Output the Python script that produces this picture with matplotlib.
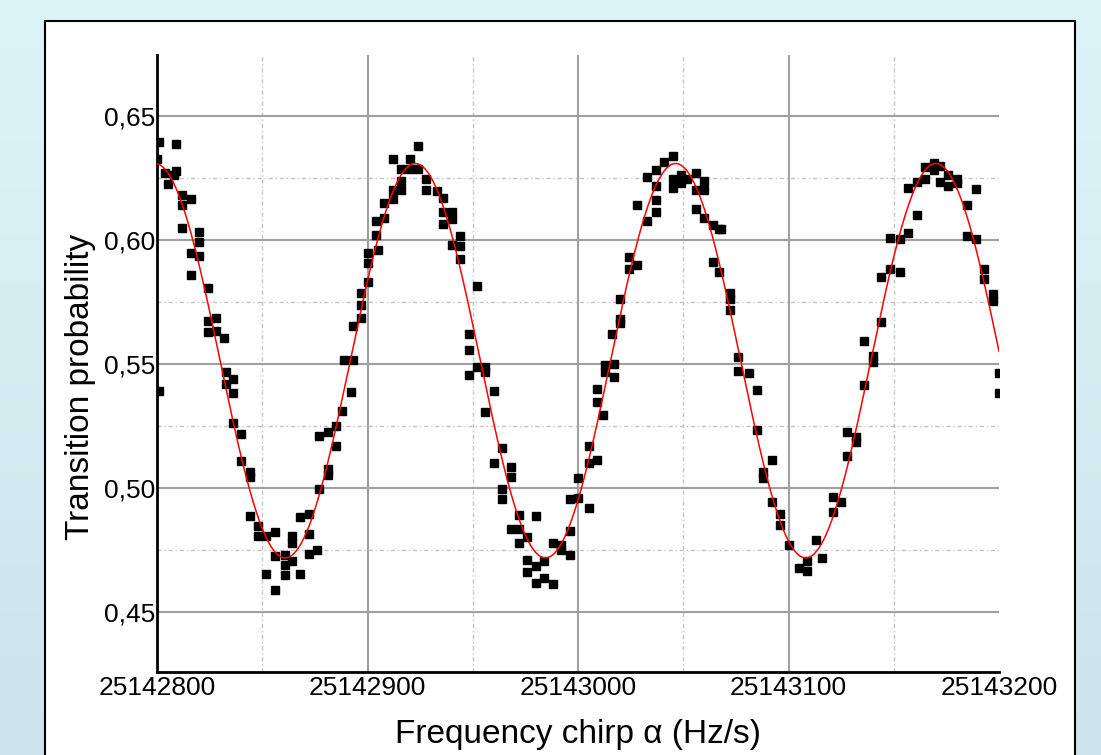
"""
Transition probability vs. frequency chirp, with a sinusoidal fit
"""
import numpy as np
import matplotlib
matplotlib.use("Agg")
import matplotlib.pyplot as plt
from matplotlib.patches import Rectangle
from matplotlib.ticker import FuncFormatter, MultipleLocator

plt.rcParams['font.family'] = ['Liberation Sans', 'DejaVu Sans']

CHIRP_START = 25142800
CHIRP_END = 25143200

# measured points: chirp offset from 25142800 Hz/s, transition probability
chirp_offset = [
    1, 9, 0, 4, 9, 8, 5, 12, 16, 12, 12, 20, 20, 16, 20, 16, 24, 24, 28, 24,
    28, 32, 33, 36, 33, 36, 1, 36, 40, 40, 44, 44, 44, 48, 48, 52, 56, 64, 64, 68,
    56, 61, 64, 61, 52, 61, 68, 56,
    112, 124, 120, 116, 120, 124, 128, 128, 133, 116, 116, 112, 112, 108, 108, 104,
    104, 105, 100, 100, 100, 97, 97, 97, 93, 89, 93, 92, 88, 85, 81, 77, 85, 81,
    81, 77, 72, 72, 72, 76,
    136, 136, 140, 140, 136, 144, 140, 144, 144, 152, 148, 148, 152, 156, 156, 148,
    160, 156, 164, 160, 168, 168, 164, 164, 172, 180, 168, 172, 176, 172, 188, 192,
    196, 192, 176, 180, 184, 176, 184, 180, 188, 196, 196, 200, 200,
    205, 205, 205, 209, 209, 209, 212, 213, 213, 217, 217, 216, 220, 220, 220, 224,
    224, 228, 228, 233, 233, 237, 237, 237, 237, 241, 245, 245, 245, 249, 249, 252,
    256, 260, 260, 256, 256, 260, 264, 267, 264, 267,
    268, 272, 272, 272, 276, 276, 281, 285, 285, 292, 288, 288, 292, 296, 296, 300,
    305, 309, 309, 313, 316, 321, 321, 325, 328, 328, 332, 332,
    336, 336, 340, 340, 344, 344, 348, 348, 353, 353, 357, 357, 361, 361, 365, 365,
    369, 369, 372, 372, 376, 376, 380, 380, 385, 385, 389, 389, 393, 393, 397, 397,
    400, 400,
]
probability = [
    .6394, .6387, .6327, .6271, .6277, .6264, .6224, .6183, .6167, .6143, .6050,
    .6032, .5992, .5946, .5936, .5859, .5806, .5675, .5684, .5628, .5635, .5604,
    .5467, .5440, .5420, .5384, .5390, .5262, .5217, .5108, .5066, .5046, .4888,
    .4845, .4805, .4805, .4821, .4805, .4778, .4885, .4724, .4731, .4707, .4691,
    .4655, .4651, .4653, .4590,
    .6328, .6380, .6327, .6286, .6286, .6286, .6244, .6203, .6197, .6237, .6203,
    .6203, .6166, .6150, .6090, .6076, .6019, .5958, .5946, .5906, .5829, .5788,
    .5738, .5684, .5655, .5518, .5518, .5387, .5309, .5250, .5226, .5209, .5170,
    .5076, .5052, .4996, .4894, .4814, .4735, .4748,
    .6170, .6112, .6112, .6083, .6063, .6016, .5979, .5976, .5922, .5813, .5621,
    .5558, .5487, .5487, .5467, .5454, .5390, .5307, .5162, .5099, .5086, .5046,
    .4995, .4955, .4892, .4888, .4834, .4834, .4801, .4778, .4780, .4771, .4731,
    .4751, .4711, .4684, .4707, .4660, .4637, .4617, .4613, .4827, .4955, .4959,
    .5042,
    .4921, .5099, .5169, .5112, .5347, .5398, .5296, .5494, .5467, .5501, .5447,
    .5621, .5681, .5665, .5764, .5933, .5882, .5898, .6143, .6254, .6076, .6112,
    .6163, .6217, .6284, .6313, .6340, .6244, .6210, .6264, .6230, .6244, .6270,
    .6237, .6203, .6203, .6126, .6090, .6059, .6043, .5912, .5869,
    .6046, .5788, .5762, .5719, .5527, .5470, .5465, .5394, .5233, .5112, .5066,
    .5042, .4945, .4894, .4851, .4771, .4677, .4704, .4667, .4791, .4718, .4965,
    .4905, .4945, .5130, .5226, .5206, .5186,
    .5594, .5414, .5531, .5507, .5668, .5851, .5885, .6009, .5871, .6003, .6029,
    .6210, .6100, .6234, .6246, .6293, .6311, .6284, .6300, .6233, .6264, .6217,
    .6244, .6230, .6143, .6016, .6206, .6003, .5882, .5842, .5782, .5755, .5465,
    .5384,
]

x_ticks = [25142800, 25142900, 25143000, 25143100, 25143200]
y_ticks = [0.45, 0.50, 0.55, 0.60, 0.65]

chirp = CHIRP_START + np.array(chirp_offset, dtype=float)
prob = np.array(probability)

# least squares sine fit (scan the period, linear solve for the rest)
t = chirp - CHIRP_START
best = None
for period in np.arange(100.0, 150.0, 0.05):
    w = 2 * np.pi / period
    A = np.column_stack([np.ones_like(t), np.sin(w * t), np.cos(w * t)])
    coef, res, _, _ = np.linalg.lstsq(A, prob, rcond=None)
    err = np.sum((A @ coef - prob) ** 2)
    if best is None or err < best[0]:
        best = (err, w, coef)
_, w_fit, c_fit = best
t_fit = np.linspace(0, CHIRP_END - CHIRP_START, 800)
p_fit = c_fit[0] + c_fit[1] * np.sin(w_fit * t_fit) + c_fit[2] * np.cos(w_fit * t_fit)

fig = plt.figure(figsize=(11.01, 7.55), dpi=100)

# light blue gradient background
bg = fig.add_axes([0, 0, 1, 1], zorder=-10)
top = np.array([221, 244, 248]) / 255
bottom = np.array([205, 228, 235]) / 255
grad = np.linspace(0, 1, 256)[:, None, None]
bg.imshow(top + (bottom - top) * grad, aspect='auto', extent=[0, 1, 0, 1])
bg.axis('off')

# white panel with black border
fig.add_artist(Rectangle((45 / 1101, -0.02), 1030 / 1101, 1.02 - 21 / 755,
                         transform=fig.transFigure, facecolor='white',
                         edgecolor='black', lw=1.5, zorder=-5))

ax = fig.add_axes([157 / 1101, 1 - 672 / 755, 842 / 1101, 617 / 755])
ax.set_facecolor('white')

ax.plot(chirp, prob, 's', color='black', markersize=6, zorder=3)
ax.plot(CHIRP_START + t_fit, p_fit, color='red', lw=1.1, zorder=4)

ax.set_xlim(CHIRP_START, CHIRP_END)
ax.set_ylim(0.4258, 0.6746)
ax.set_xticks(x_ticks)
ax.set_yticks(y_ticks)
ax.xaxis.set_minor_locator(MultipleLocator(50))
ax.yaxis.set_minor_locator(MultipleLocator(0.025))
ax.xaxis.set_major_formatter(FuncFormatter(lambda v, pos: f"{v:.0f}"))
ax.yaxis.set_major_formatter(FuncFormatter(lambda v, pos: f"{v:.2f}".replace('.', ',')))

ax.grid(which='major', color='#a0a0a0', lw=1.5)
ax.grid(which='minor', color='#c4c4c4', lw=1.0, linestyle=(0, (3, 2, 1, 2)))
ax.xaxis.get_gridlines()[-1].set_visible(False)
ax.set_axisbelow(True)

ax.tick_params(which='both', length=0, labelsize=19, colors='black')
ax.tick_params(axis='y', pad=1)
ax.tick_params(axis='x', pad=3)

for side in ['top', 'right']:
    ax.spines[side].set_visible(False)
for side in ['left', 'bottom']:
    ax.spines[side].set_linewidth(2)
    ax.spines[side].set_color('black')

ax.set_xlabel('Frequency chirp α (Hz/s)', fontsize=24)
ax.xaxis.set_label_coords(0.5, -0.101)
ax.xaxis.label.set_va('center')
ax.set_ylabel('Transition probability', fontsize=24)
ax.yaxis.set_label_coords(-0.0914, 0.462)
ax.yaxis.label.set_va('center')

fig.savefig('out.png', dpi=100)
